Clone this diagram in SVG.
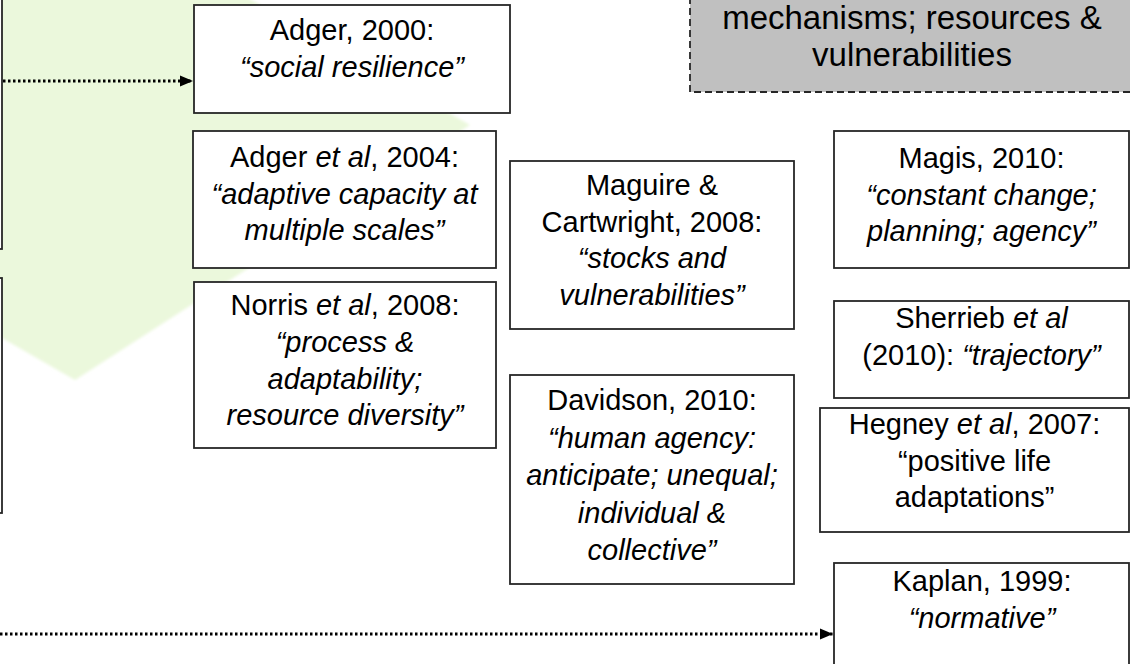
<svg xmlns="http://www.w3.org/2000/svg" width="1130" height="664" viewBox="0 0 1130 664">
<style>
.box{fill:#fff;stroke:#262626;stroke-width:1.8}
.gray{fill:#c0c0c0;stroke:#262626;stroke-width:1.8;stroke-dasharray:7 4}
text{font-family:"Liberation Sans",Arial,sans-serif;font-size:29px;fill:#000;text-anchor:middle}
.big{font-size:33px}
.i{font-style:italic}
.con{fill:none;stroke:#000;stroke-width:3;stroke-dasharray:2.5 2.5}
</style>
<defs>
<marker id="ah" markerUnits="userSpaceOnUse" markerWidth="14" markerHeight="12" refX="13" refY="6" orient="auto">
<path d="M0,0.5 L13,6 L0,11.5 Z" fill="#000"/>
</marker>
<filter id="soft" x="-5%" y="-5%" width="110%" height="110%"><feGaussianBlur stdDeviation="1.5"/></filter>
</defs>
<rect x="0" y="0" width="1130" height="664" fill="#fff"/>
<polygon id="chevron" points="-10,-10 234,-10 470,125 75,380 -10,331" fill="#ebf8dc" filter="url(#soft)"/>

<g id="left-box-1"><rect class="box" x="-300" y="-10" width="302" height="259"/></g>
<g id="left-box-2"><rect class="box" x="-300" y="278" width="302" height="235"/></g>

<g id="gray-box">
<rect class="gray" x="690" y="-10" width="444" height="102"/>
<text class="big" x="912" y="29">mechanisms; resources &amp;</text>
<text class="big" x="912" y="66">vulnerabilities</text>
</g>

<g id="adger2000">
<rect class="box" x="194" y="5" width="316" height="108"/>
<text x="352" y="40">Adger, 2000:</text>
<text x="352" y="77" class="i">“social resilience”</text>
</g>

<g id="adger2004">
<rect class="box" x="193" y="131" width="303" height="137"/>
<text x="344.5" y="167">Adger <tspan class="i">et al</tspan>, 2004:</text>
<text x="344.5" y="203.5" class="i">“adaptive capacity at</text>
<text x="344.5" y="240" class="i">multiple scales”</text>
</g>

<g id="norris2008">
<rect class="box" x="194" y="282" width="302" height="166"/>
<text x="345" y="315">Norris <tspan class="i">et al</tspan>, 2008:</text>
<text x="345" y="352" class="i">“process &amp;</text>
<text x="345" y="388.5" class="i">adaptability;</text>
<text x="345" y="425" class="i">resource diversity”</text>
</g>

<g id="maguire2008">
<rect class="box" x="510" y="161" width="284" height="168"/>
<text x="652" y="195">Maguire &amp;</text>
<text x="652" y="231.5">Cartwright, 2008:</text>
<text x="652" y="268" class="i">“stocks and</text>
<text x="652" y="304.5" class="i">vulnerabilities”</text>
</g>

<g id="davidson2010">
<rect class="box" x="510" y="375" width="284" height="209"/>
<text x="652" y="410">Davidson, 2010:</text>
<text x="652" y="447.5" class="i">“human agency:</text>
<text x="652" y="485" class="i">anticipate; unequal;</text>
<text x="652" y="522.5" class="i">individual &amp;</text>
<text x="652" y="560" class="i">collective”</text>
</g>

<g id="magis2010">
<rect class="box" x="834" y="131" width="295" height="137"/>
<text x="981.5" y="168">Magis, 2010:</text>
<text x="981.5" y="204.5" class="i">“constant change;</text>
<text x="981.5" y="241" class="i">planning; agency”</text>
</g>

<g id="sherrieb2010">
<rect class="box" x="834" y="301" width="295" height="97"/>
<text x="981.5" y="328">Sherrieb <tspan class="i">et al</tspan></text>
<text x="981.5" y="365">(2010): <tspan class="i">“trajectory”</tspan></text>
</g>

<g id="hegney2007">
<rect class="box" x="820" y="408" width="309" height="124"/>
<text x="974.5" y="434">Hegney <tspan class="i">et al</tspan>, 2007:</text>
<text x="974.5" y="470.5">“positive life</text>
<text x="974.5" y="507">adaptations”</text>
</g>

<g id="kaplan1999">
<rect class="box" x="834" y="563" width="295" height="120"/>
<text x="982" y="591">Kaplan, 1999:</text>
<text x="982" y="628" class="i">“normative”</text>
</g>

<g id="connectors">
<line class="con" x1="3" y1="81" x2="193" y2="81" marker-end="url(#ah)"/>
<line class="con" x1="-5" y1="634" x2="833" y2="634" marker-end="url(#ah)"/>
</g>
</svg>
